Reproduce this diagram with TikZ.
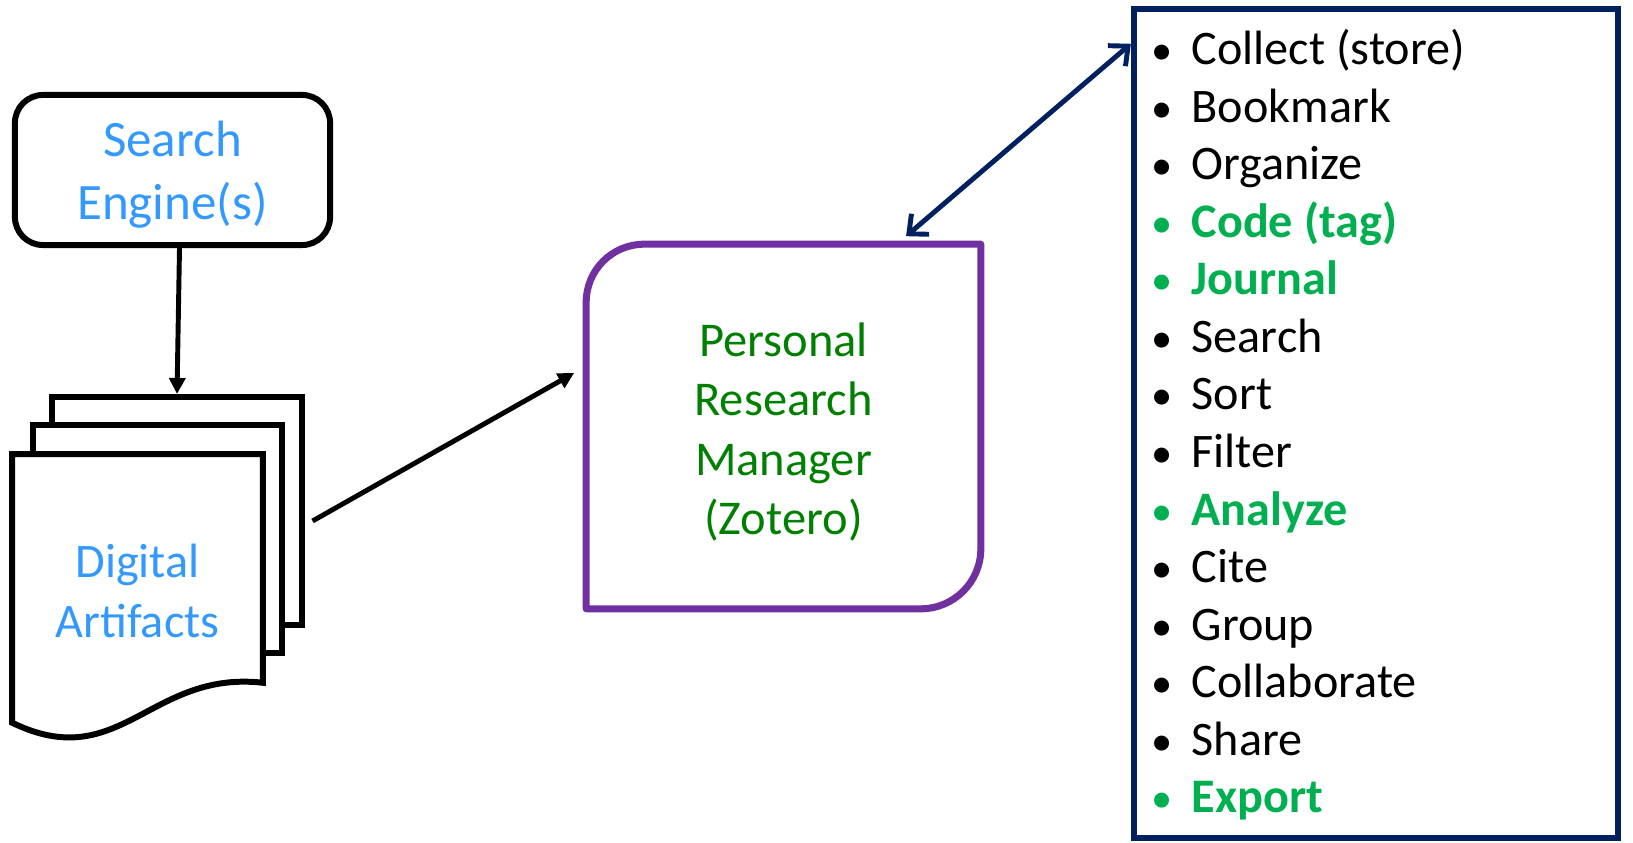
\documentclass[tikz,border=0pt]{standalone}
\usepackage{fontspec}
\setmainfont{Carlito}
\usetikzlibrary{arrows.meta}
\definecolor{seblue}{RGB}{51,153,255}
\definecolor{prmpurple}{RGB}{112,48,160}
\definecolor{prmgreen}{RGB}{0,128,0}
\definecolor{navy}{RGB}{0,32,96}
\definecolor{hlgreen}{RGB}{0,176,80}
\tikzstyle{sebox}=[rectangle, rounded corners=0.28cm, draw=black, line width=1.7pt, minimum width=3.15cm, minimum height=1.5cm]
\tikzstyle{sheet}=[rectangle, draw=black, fill=white, line width=1.7pt, minimum width=2.49cm, minimum height=2.28cm, inner sep=0pt]
\tikzstyle{annot}=[align=center, inner sep=0pt]
\tikzstyle{item}=[anchor=base west, inner sep=0pt, font=\fontsize{13.7}{16}\selectfont]
\tikzstyle{itemhl}=[item, text=hlgreen, font=\fontsize{13.7}{16}\selectfont\bfseries]
\tikzstyle{arr}=[-{Triangle[length=0.16cm,width=0.16cm]}, line width=1.4pt]
\tikzstyle{dblarr}=[{Straight Barb[length=0.15cm,width=0.27cm]}-{Straight Barb[length=0.15cm,width=0.27cm]}, draw=navy, line width=1.4pt]
\newcommand{\bul}{\llap{\makebox[0.6cm]{\mdseries\scalebox{0.88}{\textbullet}}}}
\begin{document}
\begin{tikzpicture}[x=0.01cm, y=0.01cm]
	\useasboundingbox (0,0) rectangle (1633,-843);

	\node[sebox] (search) at (172.5,-170) {};
	\node[annot, text=seblue, font=\fontsize{14.5}{18}\selectfont] (searchtxt) at (172.5,-175) {Search\\Engine(s)};

	% stack of documents
	\node[sheet] (sheet3) at (177,-511) {};
	\node[sheet] (sheet2) at (157.5,-539) {};
	\node[annot, minimum width=2.49cm, minimum height=2.7cm] (docs) at (137.5,-590) {};
	\filldraw[fill=white, line width=1.7pt] (docs.north west) -- (docs.north east) -- ([yshift=0.43cm]docs.south east)
		.. controls (150,-670) and (120,-775) .. ([yshift=0.03cm]docs.south west) -- cycle;
	\node[annot, text=seblue, font=\fontsize{13.7}{17.3}\selectfont] (docstxt) at (137.5,-591) {Digital\\Artifacts};

	% personal research manager
	\node[annot, minimum width=3.93cm, minimum height=3.63cm] (prm) at (783.5,-426.5) {};
	\draw[draw=prmpurple, line width=2pt, line join=round] (prm.south west) -- ([yshift=-0.58cm]prm.north west)
		arc[start angle=180, end angle=90, radius=0.58cm] -- (prm.north east) -- ([yshift=0.6cm]prm.south east)
		arc[start angle=0, end angle=-90, radius=0.6cm] -- cycle;
	\node[annot, text=prmgreen, font=\fontsize{13.8}{16.9}\selectfont] (prmtxt) at (783.5,-432) {Personal\\Research\\Manager\\(Zotero)};

	% feature list
	\node[rectangle, draw=navy, line width=1.7pt, minimum width=4.84cm, minimum height=8.29cm] (list) at (1376,-423.5) {};
	\foreach \txt/\sty [count=\i from 0] in {Collect (store)/item, Bookmark/item, Organize/item, Code (tag)/itemhl, Journal/itemhl, Search/item, Sort/item, Filter/item, Analyze/itemhl, Cite/item, Group/item, Collaborate/item, Share/item, Export/itemhl}
		\node[\sty] (item\i) at (1191,-65-57.5*\i) {\bul\txt};

	\draw[arr] ([xshift=0.07cm]search.south) -- (sheet3.north);
	\draw[arr] ([shift={(0.08cm,-0.1cm)}]sheet3.east) -- ([shift={(-0.12cm,0.535cm)}]prm.west);
	\draw[dblarr] ([shift={(1.225cm,0.08cm)}]prm.north) -- ([yshift=-0.38cm]list.north west);
\end{tikzpicture}
\end{document}
